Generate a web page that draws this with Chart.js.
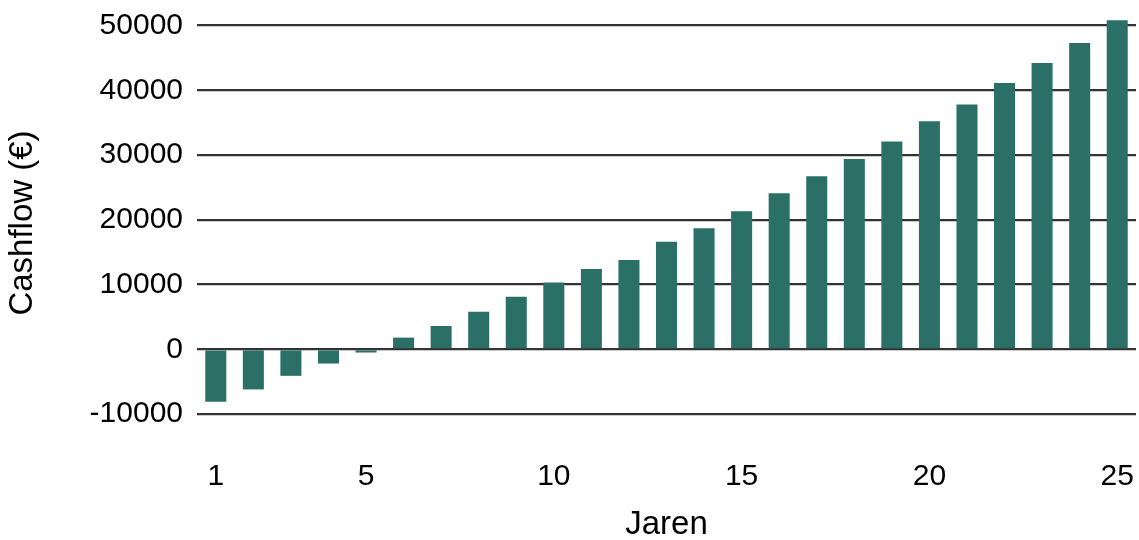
<!DOCTYPE html>
<html>
<head>
<meta charset="utf-8">
<script src="https://cdn.jsdelivr.net/npm/chart.js@4/dist/chart.umd.min.js"></script>
<style>
  html, body { margin: 0; padding: 0; background: #fff; }
  #wrap { width: 1139px; height: 540px; position: relative; }
</style>
</head>
<body>
<div id="wrap"><canvas id="chart"></canvas></div>
<script>
// Jaren 1..25 en cashflow per jaar
const years = ['1','2','3','4','5','6','7','8','9','10','11','12','13','14','15','16','17','18','19','20','21','22','23','24','25'];
const cashflow = [-8100, -6200, -4100, -2200, -500, 1800, 3600, 5800, 8100, 10300, 12400, 13800, 16600, 18700, 21300, 24100, 26700, 29400, 32100, 35200, 37800, 41100, 44200, 47300, 50800];
const xTickLabels = ['1', '5', '10', '15', '20', '25'];
const yTicks = [-10000, 0, 10000, 20000, 30000, 40000, 50000];
const yMin = -12000, yMax = 51000;

const barColor = '#2a7067';
const gridColor = '#333333';
const fontFamily = "'Liberation Sans', Arial, sans-serif";

Chart.defaults.font.family = fontFamily;
Chart.defaults.color = '#000';

new Chart(document.getElementById('chart'), {
    type: 'bar',
    data: {
        labels: years,
        datasets: [{
            data: cashflow,
            backgroundColor: barColor,
            borderWidth: 0,
            categoryPercentage: 1,
            barPercentage: 0.56
        }]
    },
    options: {
        responsive: true,
        maintainAspectRatio: false,
        animation: false,
        layout: { padding: { top: 19, right: 3, left: 0, bottom: 0 } },
        plugins: {
            legend: { display: false },
            tooltip: { enabled: false }
        },
        scales: {
            x: {
                grid: { display: false },
                border: { display: false },
                ticks: {
                    autoSkip: false,
                    maxRotation: 0,
                    padding: 24,
                    font: { size: 30 },
                    callback: function(value, index) {
                        const lbl = years[index];
                        return xTickLabels.includes(lbl) ? lbl : '';
                    }
                },
                title: {
                    display: true,
                    text: 'Jaren',
                    font: { size: 33, lineHeight: 0.9 },
                    padding: { top: 20, bottom: 0 }
                },
                afterFit: function(scale) {
                    scale.height = 113;
                    scale.paddingLeft = 0;
                    scale.paddingRight = 0;
                }
            },
            y: {
                min: yMin,
                max: yMax,
                grid: { color: gridColor, lineWidth: 2.2, drawTicks: false },
                border: { display: false },
                afterBuildTicks: function(scale) {
                    scale.ticks = yTicks.map(v => ({ value: v }));
                },
                ticks: {
                    padding: 14,
                    font: { size: 30 },
                    callback: function(value) {
                        return String(value);
                    }
                },
                title: {
                    display: true,
                    text: 'Cashflow (€)',
                    font: { size: 33, lineHeight: 0.9 },
                    padding: { top: 8, bottom: 0 }
                },
                afterFit: function(scale) {
                    scale.width = 197;
                    scale.paddingTop = 0;
                    scale.paddingBottom = 0;
                }
            }
        }
    }
});
</script>
</body>
</html>
